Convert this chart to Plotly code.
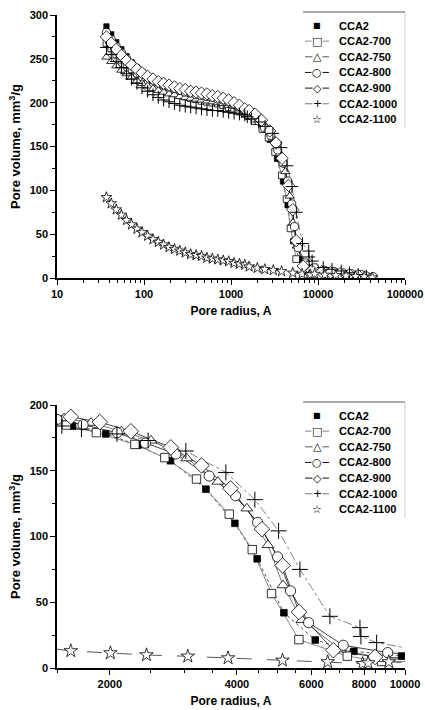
import math
import plotly.graph_objects as go

# ---------------- data ----------------
series_names = ["CCA2", "CCA2-700", "CCA2-750", "CCA2-800", "CCA2-900", "CCA2-1000", "CCA2-1100"]

# small-radius part (shared radii), Å
r_low = [37, 42, 48, 55, 63, 72, 83, 95, 110, 127, 146, 168, 194, 224, 258, 298,
         344, 397, 458, 529, 611, 705, 814, 940, 1085, 1250, 1440]
v_cca2_low = [287, 278, 269, 261, 253, 246, 240, 235, 230, 226, 223, 220, 218, 216, 214, 212,
              210, 208, 207, 205, 204, 202, 200, 198, 195, 192, 188]
v_700_low = [268, 262, 255, 249, 243, 238, 233, 229, 225, 221, 218, 215, 213, 211, 209, 207,
             205, 204, 202, 201, 200, 199, 197, 195, 193, 190, 187]
v_750_low = [252, 247, 242, 237, 233, 229, 225, 222, 219, 216, 214, 212, 210, 209, 207, 206,
             205, 204, 203, 202, 201, 200, 199, 197, 196, 194, 191]
v_800_low = [280, 272, 264, 257, 250, 244, 239, 234, 230, 226, 223, 220, 218, 216, 214, 212,
             211, 209, 208, 207, 206, 204, 203, 201, 198, 195, 191]
v_900_low = [275, 268, 261, 254, 248, 243, 238, 234, 230, 227, 224, 222, 220, 218, 216, 215,
             213, 212, 211, 210, 208, 207, 205, 203, 200, 197, 193]
v_1000_low = [263, 255, 247, 240, 233, 227, 222, 217, 213, 209, 206, 203, 201, 199, 197, 196,
              195, 194, 193, 192, 191, 191, 190, 189, 188, 187, 186]
v_1100_low = [92, 85, 78, 72, 66, 61, 56, 52, 48, 44, 41, 38, 35, 33, 31, 29,
              27, 26, 25, 23, 22, 21, 20, 19, 17, 16, 15]

# intrusion step region (as in the lower, zoomed panel)
r_cca2_mid = [1632, 1957, 2333, 2785, 3378, 3956, 4467, 5167, 6131, 7569, 9817]
v_cca2_mid = [184, 178, 169.5, 157.6, 136, 110, 83, 42, 21.3, 12.7, 9.1]
r_700_mid = [1579, 1859, 2293, 2700, 3209, 3836, 4349, 4831, 5608, 7300, 8800]
v_700_mid = [184.8, 179, 170, 160, 143.7, 117, 90, 56.6, 21.6, 9, 5]
r_750_mid = [1560, 1806, 2130, 2505, 3043, 3605, 4222, 4736, 5141, 5700, 7025, 8900]
v_750_mid = [190, 186.5, 180, 173, 159.5, 141.7, 121.4, 93.5, 63, 36.5, 14.2, 7]
r_800_mid = [1500, 1729, 2082, 2429, 2868, 3439, 3971, 4477, 4993, 5359, 5912, 7143, 9100]
v_800_mid = [189, 185, 179, 171, 162.7, 146, 131, 110.7, 84.5, 58.6, 34.5, 17.3, 11.7]
r_900_mid = [1617, 1894, 2243, 2789, 3298, 3863, 4584, 5131, 5610, 6766, 8492]
v_900_mid = [191, 187, 180, 167.8, 154, 136.5, 105.6, 78, 42.6, 13.5, 8.4]
r_1000_mid = [1540, 1714, 2080, 2465, 3028, 3766, 4411, 5020, 5640, 6641, 7823, 7865, 8566]
v_1000_mid = [184, 181.7, 178, 173, 165, 148.7, 128, 104.3, 75, 39.3, 30.7, 24, 19.3]
r_1100_mid = [1617, 2007, 2443, 3061, 3812, 5129, 6562, 7936, 8180, 9155]
v_1100_mid = [13, 11.4, 9.9, 8.9, 7.6, 5.8, 4.6, 3.3, 3.8, 4.6]

# large-radius tail
r_cca2_tail = [12500, 16000, 20000, 25000, 31000, 38000]
v_cca2_tail = [7, 6, 5, 4, 3, 1]
r_700_tail = [12000, 15500, 19500, 24500, 30500, 37500]
v_700_tail = [5, 4.5, 4, 3.5, 2.5, 1]
r_750_tail = [12300, 15800, 19800, 24800, 30800, 38500]
v_750_tail = [6, 5, 4.5, 4, 3, 1.5]
r_800_tail = [11800, 15200, 19200, 24000, 31500, 43000]
v_800_tail = [9, 7.5, 6, 5, 4, 1.5]
r_900_tail = [11000, 14000, 18000, 23000, 29000, 36000]
v_900_tail = [7, 6, 5, 4, 3, 1]
r_1000_tail = [11500, 14500, 18500, 23000, 29000, 36000]
v_1000_tail = [12, 10, 8, 6, 4, 2]
r_1100_tail = [12000, 16000, 21000, 27000, 34000, 42000]
v_1100_tail = [3.5, 3, 2.5, 2, 1.5, 0.5]

top_xticks = [10, 100, 1000, 10000, 100000]
top_yticks = [0, 50, 100, 150, 200, 250, 300]
bot_xticks = [2000, 4000, 6000, 8000, 10000]
bot_yticks = [0, 50, 100, 150, 200]

# ---------------- assemble series ----------------
data = {
    "CCA2": (r_low + r_cca2_mid + r_cca2_tail, v_cca2_low + v_cca2_mid + v_cca2_tail),
    "CCA2-700": (r_low + r_700_mid + r_700_tail, v_700_low + v_700_mid + v_700_tail),
    "CCA2-750": (r_low + r_750_mid + r_750_tail, v_750_low + v_750_mid + v_750_tail),
    "CCA2-800": (r_low + r_800_mid + r_800_tail, v_800_low + v_800_mid + v_800_tail),
    "CCA2-900": (r_low + r_900_mid + r_900_tail, v_900_low + v_900_mid + v_900_tail),
    "CCA2-1000": (r_low + r_1000_mid + r_1000_tail, v_1000_low + v_1000_mid + v_1000_tail),
    "CCA2-1100": (r_low + r_1100_mid + r_1100_tail, v_1100_low + v_1100_mid + v_1100_tail),
}

style = {
    "CCA2":      dict(sym="square", fill="black", lc="#222222", dash="dot", lw=0.8, size=5.5),
    "CCA2-700":  dict(sym="square", fill="white", lc="#888888", dash="solid", lw=1.0, size=7),
    "CCA2-750":  dict(sym="triangle-up", fill="white", lc="#555555", dash="solid", lw=0.8, size=8.5),
    "CCA2-800":  dict(sym="circle", fill="white", lc="#111111", dash="solid", lw=0.8, size=8.5),
    "CCA2-900":  dict(sym="diamond", fill="white", lc="#111111", dash="solid", lw=0.8, size=10),
    "CCA2-1000": dict(sym="cross-thin", fill="black", lc="#777777", dash="dashdot", lw=0.9, size=9.5),
    "CCA2-1100": dict(sym="star", fill="white", lc="#444444", dash="longdash", lw=0.9, size=8.5),
}

fig = go.Figure()
FONT = "Liberation Sans, Arial, sans-serif"

for axes, scale in (("x", 0.95), ("x2", 1.2)):
    yax = "y" if axes == "x" else "y2"
    for name in series_names:
        rr, vv = data[name]
        s = style[name]
        fig.add_trace(go.Scatter(
            x=rr, y=vv, xaxis=axes, yaxis=yax, mode="lines", showlegend=False,
            line=dict(color=s["lc"], width=s["lw"], dash=s["dash"]), hoverinfo="skip"))
    for name in series_names:
        rr, vv = data[name]
        s = style[name]
        if s["sym"] == "cross-thin":
            mk = dict(symbol="cross-thin", size=s["size"] * scale, line=dict(color="black", width=1))
        else:
            mk = dict(symbol=s["sym"], size=s["size"] * scale, color=s["fill"],
                      line=dict(color="black", width=0.8))
        fig.add_trace(go.Scatter(
            x=rr, y=vv, xaxis=axes, yaxis=yax, mode="markers", name=name, showlegend=False,
            marker=mk))

# page geometry (pixels) -> plot-area paper coords
W, H = 425, 710
ML, MR, MT, MB = 57, 20, 15, 42
PW, PH = W - ML - MR, H - MT - MB
def px(x):
    return (x - ML) / PW
def py(y):
    return (H - MB - y) / PH

title_font = dict(family=FONT, size=12, color="black", weight="bold")
ytitle_font = dict(family=FONT, size=13, color="black", weight="bold")
axis_common = dict(showline=True, linecolor="black", linewidth=1.5, ticks="outside", ticklen=5,
                   tickwidth=1.2, tickcolor="black", showgrid=False, zeroline=False,
                   automargin=False,
                   tickfont=dict(family=FONT, size=11, color="black", weight="bold"))

top_minor_x = [m * 10 ** e for e in range(1, 5) for m in range(2, 10)]
bot_minor_x = [v for v in range(1500, 10000, 500) if v not in bot_xticks]

fig.update_layout(
    template="none",
    width=W, height=H, margin=dict(l=ML, r=MR, t=MT, b=MB, pad=0),
    paper_bgcolor="white", plot_bgcolor="white", showlegend=False,
    xaxis=dict(axis_common, type="log", range=[1, 5], domain=[0, 1],
               tickvals=top_xticks, ticktext=[str(t) for t in top_xticks], anchor="y",
               title=dict(text="Pore radius, A", font=title_font, standoff=8),
               minor=dict(tickvals=top_minor_x, ticks="outside", ticklen=3, tickcolor="black")),
    yaxis=dict(axis_common, range=[0, 300], domain=[py(278), py(15)], tickvals=top_yticks,
               anchor="x",
               title=dict(text="Pore volume, mm<sup>3</sup>/g", font=ytitle_font, standoff=6),
               minor=dict(tickvals=[25, 75, 125, 175, 225, 275], ticks="outside", ticklen=3,
                          tickcolor="black")),
    xaxis2=dict(axis_common, type="log", range=[math.log10(1500), 4], domain=[0, 1],
                tickvals=bot_xticks, ticktext=[str(t) for t in bot_xticks], anchor="y2",
                title=dict(text="Pore radius, A", font=title_font, standoff=8),
                minor=dict(tickvals=bot_minor_x, ticks="outside", ticklen=3, tickcolor="black")),
    yaxis2=dict(axis_common, range=[0, 200], domain=[py(668), py(405)], tickvals=bot_yticks,
                anchor="x2",
                title=dict(text="Pore volume, mm<sup>3</sup>/g", font=ytitle_font, standoff=6),
                minor=dict(tickvals=[25, 75, 125, 175], ticks="outside", ticklen=3,
                           tickcolor="black")),
)

ann = []
shapes = []
# hand-drawn legends (Origin style)
glyphs = ["■", "□", "△", "○", "◇", "+", "☆"]
leg_lines = [None, "#888888", "#555555", "#111111", "#111111", "#777777", None]
for top in (12, 402):
    shapes.append(dict(type="line", xref="paper", yref="paper", x0=px(303), x1=px(405),
                       y0=py(top), y1=py(top), line=dict(color="#555555", width=1)))
    shapes.append(dict(type="line", xref="paper", yref="paper", x0=px(405), x1=px(405),
                       y0=py(top), y1=py(top + 116), line=dict(color="#cccccc", width=1)))
    for i, name in enumerate(series_names):
        yc = top + 13.5 + i * 15.65
        if leg_lines[i]:
            shapes.append(dict(type="line", xref="paper", yref="paper", x0=px(305), x1=px(329),
                               y0=py(yc), y1=py(yc), line=dict(color=leg_lines[i], width=1)))
        ann.append(dict(text=glyphs[i], x=px(317), y=py(yc), xref="paper", yref="paper",
                        showarrow=False, xanchor="center", yanchor="middle", bgcolor="white",
                        borderpad=0,
                        font=dict(family="DejaVu Sans", size=11 if i != 0 else 8, color="black")))
        ann.append(dict(text=name, x=px(337), y=py(yc), xref="paper", yref="paper",
                        showarrow=False, xanchor="left", yanchor="middle",
                        font=dict(family=FONT, size=11, color="black", weight="bold")))

fig.update_layout(annotations=ann, shapes=shapes)
fig.write_html(
    "out.html",
    config={"displayModeBar": False},
    post_script="document.body.style.margin='0px';document.body.style.overflow='hidden';",
)
